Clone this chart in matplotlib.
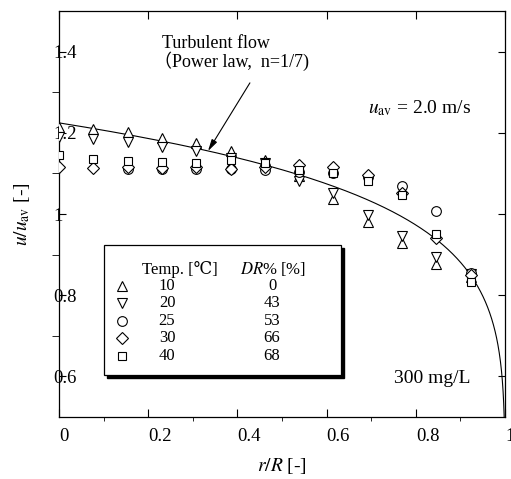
import numpy as np
import matplotlib.pyplot as plt
from matplotlib.patches import Rectangle

plt.rcParams['font.family'] = ['Liberation Serif', 'DejaVu Serif', 'Noto Sans CJK JP']
plt.rcParams['mathtext.fontset'] = 'stix'

# radial positions r/R
r_R = [0.0, 0.077, 0.154, 0.231, 0.308, 0.385, 0.462, 0.538, 0.615, 0.692, 0.769, 0.846, 0.923]

# u/u_av for each temperature
u_10 = [1.214, 1.209, 1.201, 1.188, 1.176, 1.156, 1.133, 1.094, 1.038, 0.981, 0.929, 0.876, 0.846]
u_20 = [1.190, 1.186, 1.178, 1.166, 1.156, 1.137, 1.125, 1.082, 1.052, 0.998, 0.947, 0.893, 0.852]
u_25 = [np.nan, np.nan, 1.112, 1.112, 1.112, 1.111, 1.108, 1.104, 1.100, 1.092, 1.070, 1.007, 0.854]
u_30 = [1.116, 1.114, 1.115, 1.114, 1.115, 1.112, 1.115, 1.121, 1.117, 1.096, 1.051, 0.940, 0.850]
u_40 = [1.145, 1.136, 1.131, 1.128, 1.125, 1.132, 1.125, 1.108, 1.102, 1.081, 1.046, 0.951, 0.832]

temps = ['10', '20', '25', '30', '40']
dr_pct = ['0', '43', '53', '66', '68']
markers = ['^', 'v', 'o', 'D', 's']
sizes = [7.5, 7.5, 7, 6, 5.8]
series = [u_10, u_20, u_25, u_30, u_40]

n_power = 7  # power law exponent 1/n

fig = plt.figure(figsize=(5.11, 4.79), dpi=100)
ax = fig.add_axes([0.1155, 0.1294, 0.8728, 0.8476])

# power law curve
r = np.linspace(0, 1, 3000)
coef = (n_power + 1) * (2 * n_power + 1) / (2 * n_power ** 2)
ax.plot(r, coef * (1 - r) ** (1 / n_power), color='k', lw=0.8, zorder=2)

for i in range(len(series)):
    ax.plot(r_R, series[i], linestyle='none', marker=markers[i], ms=sizes[i],
            mfc='white', mec='k', mew=0.8, zorder=3 + i)

ax.set_xlim(0, 1)
ax.set_ylim(0.5, 1.5)
ax.set_xticks([0, 0.2, 0.4, 0.6, 0.8, 1.0])
ax.set_xticklabels(['0', '0.2', '0.4', '0.6', '0.8', '1'], ha='left')
ax.set_xticks(np.arange(0.1, 1.0, 0.2), minor=True)
ax.set_yticks([0.6, 0.8, 1.0, 1.2, 1.4])
ax.set_yticklabels(['0.6', '0.8', '1', '1.2', '1.4'], ha='left')
ax.set_yticks([0.7, 0.9, 1.1, 1.3], minor=True)

ax.tick_params(direction='in', top=True, right=True, labelsize=13.5, colors='k')
ax.tick_params(axis='x', which='major', length=5.5, pad=8)
ax.tick_params(axis='x', which='minor', length=3)
ax.tick_params(axis='y', which='both', length=5, pad=4.3)
for s in ax.spines.values():
    s.set_linewidth(0.9)

ax.set_xlabel(r'$r/R$ [-]', fontsize=14, labelpad=8)
ax.set_ylabel(r'$u/u_{\rm av}$ [-]', fontsize=14, labelpad=10)

# annotations
ax.annotate('', xy=(0.334, 1.155), xytext=(0.428, 1.323),
            arrowprops=dict(arrowstyle='-|>,head_width=0.18,head_length=0.7',
                            color='k', lw=0.8, shrinkA=0, shrinkB=0))
ax.text(0.231, 1.421, 'Turbulent flow', fontsize=13, va='center')
ax.text(0.212, 1.377, '（Power law,  n=1/7)', fontsize=13, va='center')
ax.text(0.693, 1.261, r'$u_{\rm av}$ = 2.0 m/s', fontsize=14, va='center')
ax.text(0.751, 0.596, '300 mg/L', fontsize=14, va='center')

# legend box with shadow
lx0, ly0, lw, lh = 0.1009, 0.1034, 0.5314, 0.3202
ax.add_patch(Rectangle((lx0 + 0.0067, ly0 - 0.0074), lw, lh, transform=ax.transAxes,
                       facecolor='k', edgecolor='k', zorder=10))
ax.add_patch(Rectangle((lx0, ly0), lw, lh, transform=ax.transAxes,
                       facecolor='white', edgecolor='k', lw=0.9, zorder=11))
ax.text(0.186, 0.3645, 'Temp. [℃]', transform=ax.transAxes, fontsize=12,
        va='center', zorder=12)
ax.text(0.406, 0.3645, r'$DR$% [%]', transform=ax.transAxes, fontsize=12,
        va='center', zorder=12)
row_y = [0.3227, 0.2808, 0.2365, 0.1946, 0.1502]
for i in range(len(temps)):
    ax.plot([0.1413], [row_y[i]], transform=ax.transAxes, linestyle='none',
            marker=markers[i], ms=sizes[i], mfc='white', mec='k', mew=0.8,
            zorder=12, clip_on=False)
    ax.text(0.2422, row_y[i], temps[i], transform=ax.transAxes, fontsize=12,
            ha='center', va='center', zorder=12)
    ax.text(0.4776, row_y[i], dr_pct[i], transform=ax.transAxes, fontsize=12,
            ha='center', va='center', zorder=12)

fig.savefig('out.png', dpi=100)
